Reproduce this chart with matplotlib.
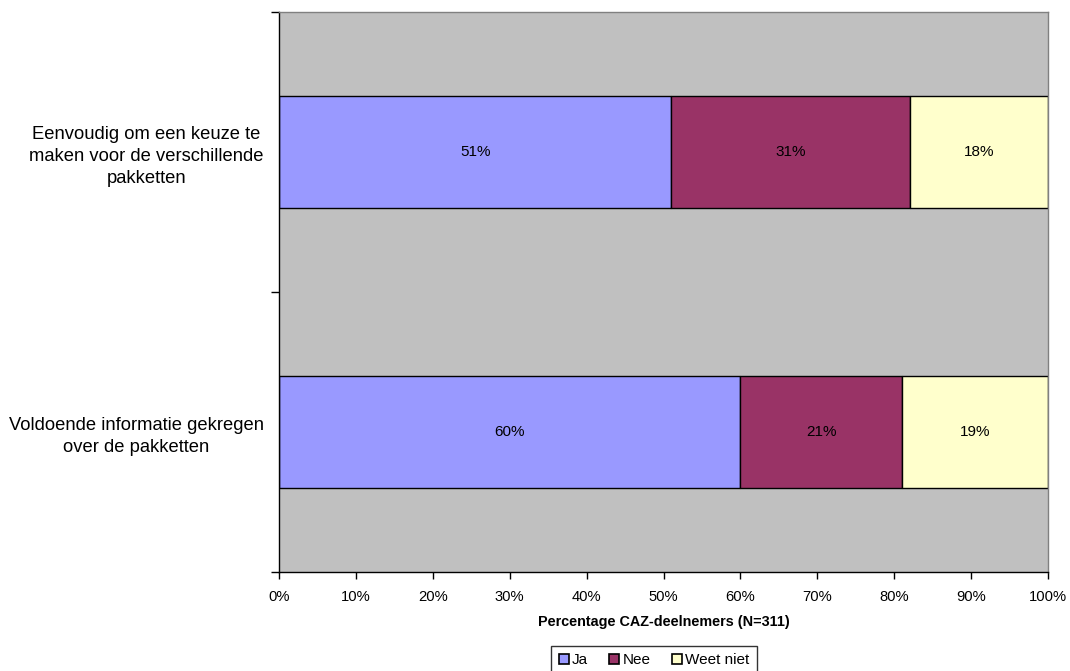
import matplotlib
matplotlib.use("Agg")
import matplotlib.pyplot as plt
import numpy as np
from matplotlib.patches import Patch

plt.rcParams['font.family'] = ['Liberation Sans', 'DejaVu Sans']

categories = ["Voldoende informatie gekregen\nover de pakketten",
              "Eenvoudig om een keuze te\nmaken voor de verschillende\npakketten"]
series_names = ["Ja", "Nee", "Weet niet"]
ja = [60, 51]
nee = [21, 31]
weet_niet = [19, 18]
colors = ["#9999FF", "#993366", "#FFFFCC"]
xtick_labels = [f"{v}%" for v in range(0, 101, 10)]

fig = plt.figure(figsize=(10.70, 6.71), dpi=100)
ax = fig.add_axes([279/1070, 1 - 572/671, (1048 - 279)/1070, (572 - 12)/671])
ax.set_facecolor("#C0C0C0")

y = np.arange(len(categories))
left = np.zeros(len(categories))
for name, vals, col in zip(series_names, [ja, nee, weet_niet], colors):
    vals = np.array(vals, dtype=float)
    ax.barh(y, vals, left=left, height=0.4, color=col,
            edgecolor="black", linewidth=1.0, label=name)
    for yi, l, v in zip(y, left, vals):
        ax.text(l + v / 2, yi, f"{int(v)}%", ha="center", va="center",
                fontsize=11, color="black")
    left += vals

ax.set_xlim(0, 100)
ax.set_ylim(-0.5, 1.5)

ax.set_xticks(np.arange(0, 101, 10))
ax.set_xticklabels(xtick_labels, fontsize=10.6)
ax.tick_params(axis="x", direction="out", length=5, width=1, pad=8)

ax.set_yticks(y)
ax.set_yticklabels(categories, fontsize=13.2, multialignment="center",
                   linespacing=1.4)
ax.tick_params(axis="y", which="major", length=0, pad=11)
ax.set_yticks([-0.5, 0.5, 1.5], minor=True)
ax.tick_params(axis="y", which="minor", direction="out", length=6, width=1)

for s in ["left", "bottom"]:
    ax.spines[s].set_color("black")
    ax.spines[s].set_linewidth(1.0)
for s in ["right", "top"]:
    ax.spines[s].set_color("#808080")
    ax.spines[s].set_linewidth(1.0)

ax.set_xlabel("Percentage CAZ-deelnemers (N=311)", fontsize=10.4,
              fontweight="bold", labelpad=8)

handles = [Patch(facecolor=c, edgecolor="black", linewidth=1.2, label=n)
           for n, c in zip(series_names, colors)]
leg = fig.legend(handles=handles, loc="lower center",
                 bbox_to_anchor=(654/1070, -0.006), ncol=3, fontsize=11,
                 frameon=True, fancybox=False, edgecolor="black",
                 handlelength=0.65, handleheight=0.65, handletextpad=0.2,
                 columnspacing=1.4, borderpad=0.5, borderaxespad=0.0)
leg.get_frame().set_linewidth(1.0)

fig.savefig("out.png", dpi=100, facecolor="white")
